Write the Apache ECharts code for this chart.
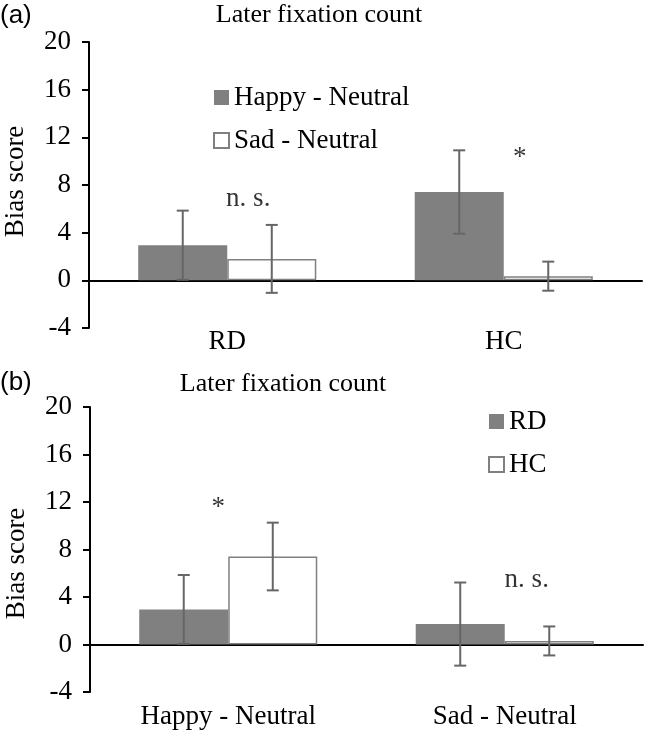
<!DOCTYPE html>
<html>
<head>
<meta charset="utf-8">
<script src="https://cdn.jsdelivr.net/npm/echarts@6/dist/echarts.min.js"></script>
<style>html,body{margin:0;padding:0;background:#fff;}#c{width:648px;height:736px;}</style>
</head>
<body>
<div id="c"></div>
<script>
// ---- data ----
const categoriesA = ['RD', 'HC'];
const happyA = [2.95, 7.41];
const happyErrA = [2.9, 3.5];
const sadA = [1.8, 0.35];
const sadErrA = [2.85, 1.22];

const categoriesB = ['Happy - Neutral', 'Sad - Neutral'];
const rdB = [2.95, 1.72];
const rdErrB = [2.9, 3.5];
const hcB = [7.41, 0.3];
const hcErrB = [2.85, 1.22];

const yMin = -4, yMax = 20, yStep = 4;

const annotTextA = ['n. s.', '*'];
const annotValA = [6.8, 10.3];
const annotTextB = ['*', 'n. s.'];
const annotValB = [11.5, 5.45];

const titleText = 'Later fixation count';
const yName = 'Bias score';

// ---- styles ----
const SERIF = "'Liberation Serif', 'Times New Roman', serif";
const SANS = "'Liberation Sans', Arial, sans-serif";
const FILL = '#808080';
const ERR = '#666666';
const GAP = 0.356;

function errData(means, errs) {
  return means.map((m, i) => [i, m - errs[i], m + errs[i]]);
}
function errRender(side) {
  return function (params, api) {
    const x = api.value(0);
    const band = api.size([1, 0])[0];
    const bw = band * (1 - GAP) / 2;
    const pLo = api.coord([x, api.value(1)]);
    const pHi = api.coord([x, api.value(2)]);
    const cx = pLo[0] + side * bw / 2;
    const cap = 6;
    const st = { stroke: ERR, lineWidth: 2 };
    return {
      type: 'group',
      children: [
        { type: 'line', shape: { x1: cx, y1: pLo[1], x2: cx, y2: pHi[1] }, style: st },
        { type: 'line', shape: { x1: cx - cap, y1: pLo[1], x2: cx + cap, y2: pLo[1] }, style: st },
        { type: 'line', shape: { x1: cx - cap, y1: pHi[1], x2: cx + cap, y2: pHi[1] }, style: st }
      ]
    };
  };
}
function annot(texts, vals, offsets, xi, yi) {
  return {
    type: 'scatter', xAxisIndex: xi, yAxisIndex: yi, symbolSize: 0, silent: true, z: 5,
    data: vals.map((v, i) => ({
      value: [i, v],
      label: { show: true, position: 'inside', formatter: texts[i], offset: offsets[i],
        fontSize: 27, fontFamily: SERIF, color: '#000' }
    }))
  };
}
function yAxis(gi, namePad) {
  return {
    type: 'value', gridIndex: gi, min: yMin, max: yMax, interval: yStep,
    name: yName, nameLocation: 'middle', nameGap: 60,
    nameTextStyle: { fontSize: 27, fontFamily: SERIF, color: '#000', padding: namePad },
    axisLine: { show: true, onZero: false, lineStyle: { color: '#000', width: 2 } },
    axisTick: { show: true, length: 7, lineStyle: { color: '#000', width: 2 } },
    axisLabel: { margin: 18, fontSize: 27, fontFamily: SERIF, color: '#000' },
    splitLine: { show: false }
  };
}
function xAxis(gi, cats, margin) {
  return {
    type: 'category', gridIndex: gi, data: cats,
    axisLine: { onZero: true, lineStyle: { color: '#000', width: 2 } },
    axisTick: { show: false },
    axisLabel: { margin: margin, fontSize: 27, fontFamily: SERIF, color: '#000', interval: 0 }
  };
}
const filled = { color: FILL };
const hollow = { color: '#fff', borderColor: FILL, borderWidth: 1.5 };
const legendText = { fontSize: 27, fontFamily: SERIF, color: '#000' };

const option = {
  animation: false,
  backgroundColor: '#fff',
  grid: [
    { left: 89, right: 6, top: 42, height: 286, containLabel: false, outerBoundsMode: 'none' },
    { left: 90, right: 5, top: 407, height: 285, containLabel: false, outerBoundsMode: 'none' }
  ],
  xAxis: [xAxis(0, categoriesA, 0), xAxis(1, categoriesB, 11)],
  yAxis: [yAxis(0, [0, 0, 0, 7]), yAxis(1, [0, 28, 0, 0])],
  legend: [
    { data: ['Happy - Neutral', 'Sad - Neutral'], orient: 'vertical', left: 213, top: 84, padding: 0,
      icon: 'rect', itemWidth: 15, itemHeight: 15, itemGap: 16, textStyle: legendText },
    { data: ['RD', 'HC'], orient: 'vertical', left: 488, top: 408, padding: 0,
      icon: 'rect', itemWidth: 15, itemHeight: 15, itemGap: 16, textStyle: legendText }
  ],
  graphic: [
    { type: 'text', left: 0, top: 3, style: { text: '(a)', fontSize: 26, fontFamily: SANS, fill: '#000' } },
    { type: 'text', left: 0, top: 370, style: { text: '(b)', fontSize: 26, fontFamily: SANS, fill: '#000' } },
    { type: 'text', x: 319, y: 15, style: { text: titleText, fontSize: 26, fontFamily: SERIF, fill: '#000', align: 'center', verticalAlign: 'middle' } },
    { type: 'text', x: 283, y: 384, style: { text: titleText, fontSize: 26, fontFamily: SERIF, fill: '#000', align: 'center', verticalAlign: 'middle' } }
  ],
  series: [
    { name: 'Happy - Neutral', type: 'bar', xAxisIndex: 0, yAxisIndex: 0, data: happyA,
      barGap: '0%', barCategoryGap: (GAP * 100) + '%', itemStyle: filled },
    { name: 'Sad - Neutral', type: 'bar', xAxisIndex: 0, yAxisIndex: 0, data: sadA, itemStyle: hollow },
    { type: 'custom', xAxisIndex: 0, yAxisIndex: 0, z: 4, renderItem: errRender(-1), data: errData(happyA, happyErrA) },
    { type: 'custom', xAxisIndex: 0, yAxisIndex: 0, z: 4, renderItem: errRender(1), data: errData(sadA, sadErrA) },
    annot(annotTextA, annotValA, [[21, 0], [16, 0]], 0, 0),

    { name: 'RD', type: 'bar', xAxisIndex: 1, yAxisIndex: 1, data: rdB,
      barGap: '0%', barCategoryGap: (GAP * 100) + '%', itemStyle: filled },
    { name: 'HC', type: 'bar', xAxisIndex: 1, yAxisIndex: 1, data: hcB, itemStyle: hollow },
    { type: 'custom', xAxisIndex: 1, yAxisIndex: 1, z: 4, renderItem: errRender(-1), data: errData(rdB, rdErrB) },
    { type: 'custom', xAxisIndex: 1, yAxisIndex: 1, z: 4, renderItem: errRender(1), data: errData(hcB, hcErrB) },
    annot(annotTextB, annotValB, [[-10, 0], [22, 0]], 1, 1)
  ]
};
const chart = echarts.init(document.getElementById('c'), null, { renderer: 'canvas' });
chart.setOption(option);
</script>
</body>
</html>
